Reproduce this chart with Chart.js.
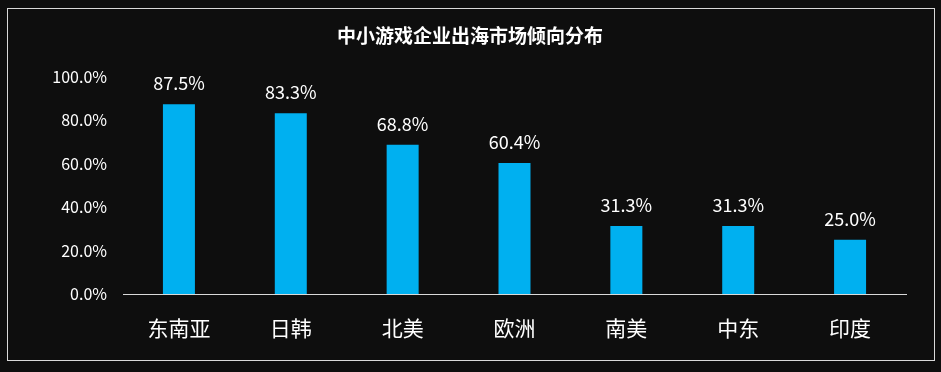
<!DOCTYPE html>
<html>
<head>
<meta charset="utf-8">
<script src="https://cdn.jsdelivr.net/npm/chart.js@4/dist/chart.umd.min.js"></script>
<style>
  html, body { margin: 0; padding: 0; background: #0e0e0e; }
  #wrap { width: 941px; height: 372px; position: relative; }
</style>
</head>
<body>
<div id="wrap"><canvas id="c" width="941" height="372"></canvas></div>
<script>
const categories = ['东南亚', '日韩', '北美', '欧洲', '南美', '中东', '印度'];
const shares = [87.5, 83.3, 68.8, 60.4, 31.3, 31.3, 25.0];
const yTicks = [0, 20, 40, 60, 80, 100];
const titleText = '中小游戏企业出海市场倾向分布';

const FONT = '"Noto Sans CJK SC", "Noto Sans", sans-serif';

const frame = {
  id: 'frame',
  beforeDraw(chart) {
    const ctx = chart.ctx;
    ctx.save();
    ctx.fillStyle = '#0e0e0e';
    ctx.fillRect(0, 0, chart.width, chart.height);
    ctx.strokeStyle = '#d9d9d9';
    ctx.lineWidth = 1;
    ctx.strokeRect(7.5, 8.5, 927, 352);
    ctx.fillStyle = '#ffffff';
    ctx.font = 'bold 19px ' + FONT;
    ctx.textAlign = 'center';
    ctx.textBaseline = 'middle';
    ctx.fillText(titleText, 470, 36);
    ctx.restore();
  }
};

const valueLabels = {
  id: 'valueLabels',
  afterDatasetsDraw(chart) {
    const ctx = chart.ctx;
    const meta = chart.getDatasetMeta(0);
    ctx.save();
    ctx.fillStyle = '#ffffff';
    ctx.font = '18px ' + FONT;
    ctx.textAlign = 'center';
    ctx.textBaseline = 'middle';
    meta.data.forEach((bar, i) => {
      ctx.fillText(shares[i].toFixed(1) + '%', bar.x, bar.y - 21);
    });
    ctx.restore();
  }
};

new Chart(document.getElementById('c'), {
  type: 'bar',
  data: {
    labels: categories,
    datasets: [{
      data: shares,
      backgroundColor: '#00b0f0',
      borderWidth: 0,
      categoryPercentage: 1,
      barPercentage: 0.286
    }]
  },
  options: {
    responsive: false,
    animation: false,
    events: [],
    layout: { padding: { top: 77, right: 35, bottom: 0, left: 0 } },
    plugins: { legend: { display: false }, title: { display: false }, tooltip: { enabled: false } },
    scales: {
      x: {
        grid: { display: false, drawTicks: false },
        border: { display: true, color: '#d9d9d9', width: 1 },
        ticks: { color: '#ffffff', font: { family: FONT, size: 21 }, padding: 21 },
        afterFit(s) { s.height = 78; }
      },
      y: {
        min: 0, max: 100,
        afterBuildTicks(s) { s.ticks = yTicks.map(v => ({ value: v })); },
        grid: { display: false, drawTicks: false },
        border: { display: false },
        ticks: {
          color: '#ffffff',
          font: { family: FONT, size: 16 },
          padding: 16,
          callback: v => v.toFixed(1) + '%'
        },
        afterFit(s) { s.width = 123; }
      }
    }
  },
  plugins: [frame, valueLabels]
});
</script>
</body>
</html>
